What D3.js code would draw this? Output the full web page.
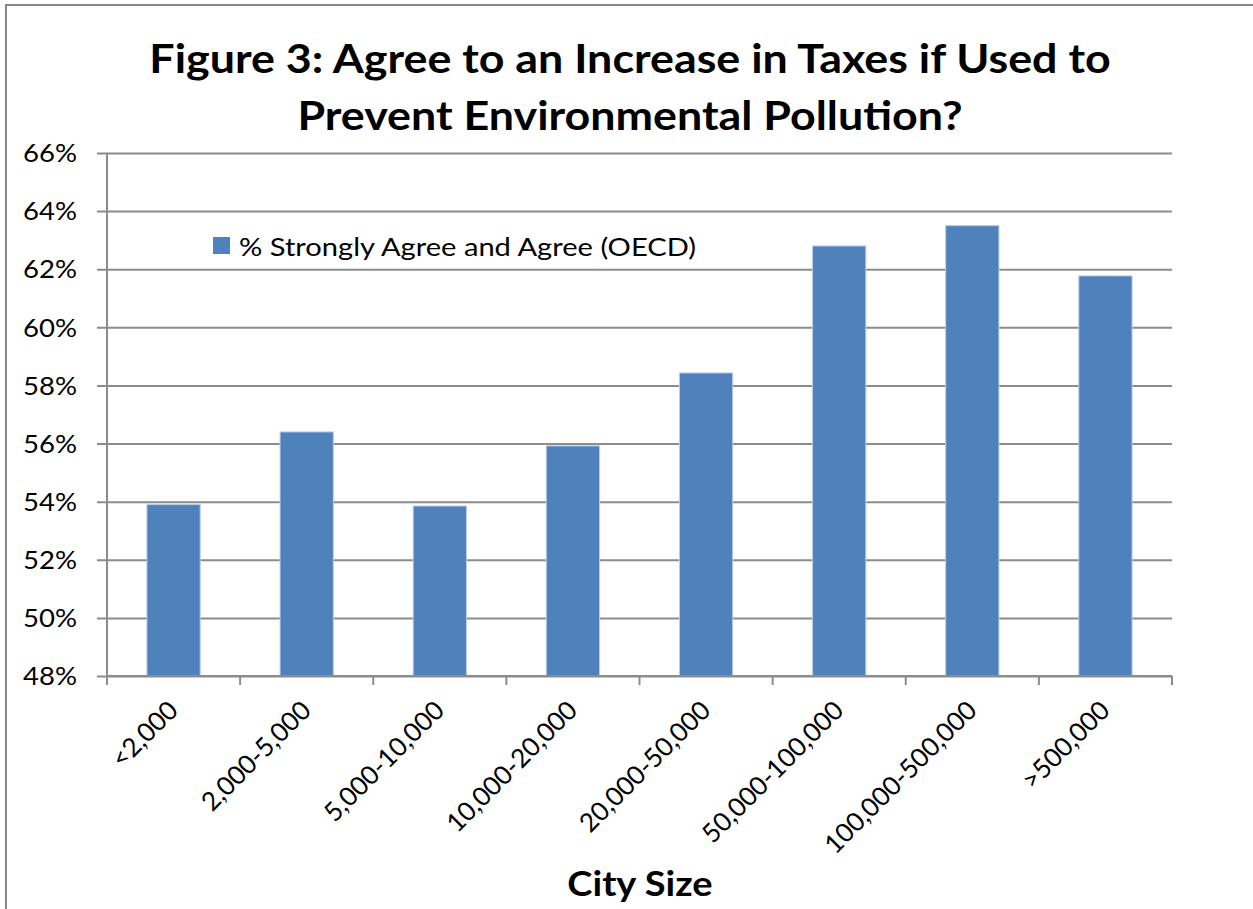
<!DOCTYPE html>
<html>
<head>
<meta charset="UTF-8">
<title>Figure 3</title>
<script src="https://d3js.org/d3.v7.min.js"></script>
<style>
  body { margin: 0; background: #fff; }
  text { font-family: Lato, "Open Sans", sans-serif; fill: #000; }
</style>
</head>
<body>
<div id="chart"></div>
<script>
// data
var categories = ["<2,000", "2,000-5,000", "5,000-10,000", "10,000-20,000",
                  "20,000-50,000", "50,000-100,000", "100,000-500,000", ">500,000"];
var agreeShare = [0.539, 0.564, 0.5385, 0.5592, 0.5843, 0.628, 0.635, 0.6177];
var yTicks = [0.48, 0.50, 0.52, 0.54, 0.56, 0.58, 0.60, 0.62, 0.64, 0.66];
var titleLines = ["Figure 3: Agree to an Increase in Taxes if Used to",
                  "Prevent Environmental Pollution?"];
var seriesName = "% Strongly Agree and Agree (OECD)";
var xTitle = "City Size";

var W = 1253, H = 909;
var margin = {top: 153, right: 81, bottom: 233, left: 107};
var width = W - margin.left - margin.right,
    height = H - margin.top - margin.bottom;

// the original text is a bit wider than Lato, stretch it a little
var stretch = 1.12;

var svg = d3.select("#chart").append("svg")
  .attr("width", W)
  .attr("height", H);

// outer frame (runs off the right and bottom edges)
svg.append("rect")
  .attr("x", 6).attr("y", 5)
  .attr("width", W + 20).attr("height", H + 20)
  .attr("fill", "none")
  .attr("stroke", "#888")
  .attr("stroke-width", 2);

var g = svg.append("g")
  .attr("transform", "translate(" + margin.left + "," + margin.top + ")");

var x = d3.scaleBand()
  .domain(categories)
  .range([0, width])
  .paddingInner(0.6)
  .paddingOuter(0.3);

var xOuter = d3.scaleBand().domain(categories).range([0, width]);

var y = d3.scaleLinear()
  .domain([0.48, 0.66])
  .range([height, 0]);

// gridlines + y axis
var yAxis = d3.axisLeft(y)
  .tickValues(yTicks)
  .tickSize(-width - 10)
  .tickFormat(d3.format(".0%"));

var yg = g.append("g")
  .attr("transform", "translate(-10,0)")
  .call(yAxis);
yg.select(".domain").remove();
yg.selectAll(".tick line")
  .attr("stroke", "#8c8c8c")
  .attr("stroke-width", 2);
yg.selectAll(".tick text")
  .attr("x", null)
  .attr("transform", "translate(-20,0) scale(1.1,1)")
  .attr("dy", "0.35em")
  .style("font-size", "25px");

// vertical axis line
g.append("line")
  .attr("x1", 0).attr("x2", 0)
  .attr("y1", 0).attr("y2", height)
  .attr("stroke", "#8c8c8c")
  .attr("stroke-width", 2);

// bars
g.selectAll(".bar")
  .data(agreeShare)
  .enter().append("rect")
  .attr("class", "bar")
  .attr("x", function(d, i) { return x(categories[i]); })
  .attr("width", x.bandwidth())
  .attr("y", function(d) { return y(d); })
  .attr("height", function(d) { return height - y(d); })
  .attr("fill", "#4f81bd")
  .attr("stroke", "#b9cde5")
  .attr("stroke-width", 1);

// x axis
var boundaries = categories.map(function(c) { return xOuter(c); }).concat([width]);
var xg = g.append("g").attr("transform", "translate(0," + height + ")");
xg.append("line")
  .attr("x1", 0).attr("x2", width)
  .attr("stroke", "#8c8c8c").attr("stroke-width", 2);
xg.selectAll(".xtick")
  .data(boundaries)
  .enter().append("line")
  .attr("x1", function(d) { return d; })
  .attr("x2", function(d) { return d; })
  .attr("y1", 0).attr("y2", 9)
  .attr("stroke", "#8c8c8c").attr("stroke-width", 2);

xg.selectAll(".xlabel")
  .data(categories)
  .enter().append("text")
  .attr("transform", function(d) {
    var cx = xOuter(d) + xOuter.bandwidth() / 2 + 6;
    return "translate(" + cx + ",36) rotate(-45)";
  })
  .attr("text-anchor", "end")
  .style("font-size", "26px")
  .text(function(d) { return d; });

// titles
svg.selectAll(".title")
  .data(titleLines)
  .enter().append("text")
  .attr("transform", function(d, i) {
    return "translate(630," + (73 + i * 57) + ") scale(" + stretch + ",1)";
  })
  .attr("text-anchor", "middle")
  .style("font-size", "40px")
  .style("font-weight", "bold")
  .text(function(d) { return d; });

svg.append("text")
  .attr("transform", "translate(640,896) scale(" + stretch + ",1)")
  .attr("text-anchor", "middle")
  .style("font-size", "34px")
  .style("font-weight", "bold")
  .text(xTitle);

// legend
var lg = svg.append("g").attr("transform", "translate(213,237)");
lg.append("rect")
  .attr("width", 17).attr("height", 17)
  .attr("fill", "#4f81bd");
lg.append("text")
  .attr("transform", "translate(26,19) scale(" + stretch + ",1)")
  .style("font-size", "26px")
  .text(seriesName);
</script>
</body>
</html>
